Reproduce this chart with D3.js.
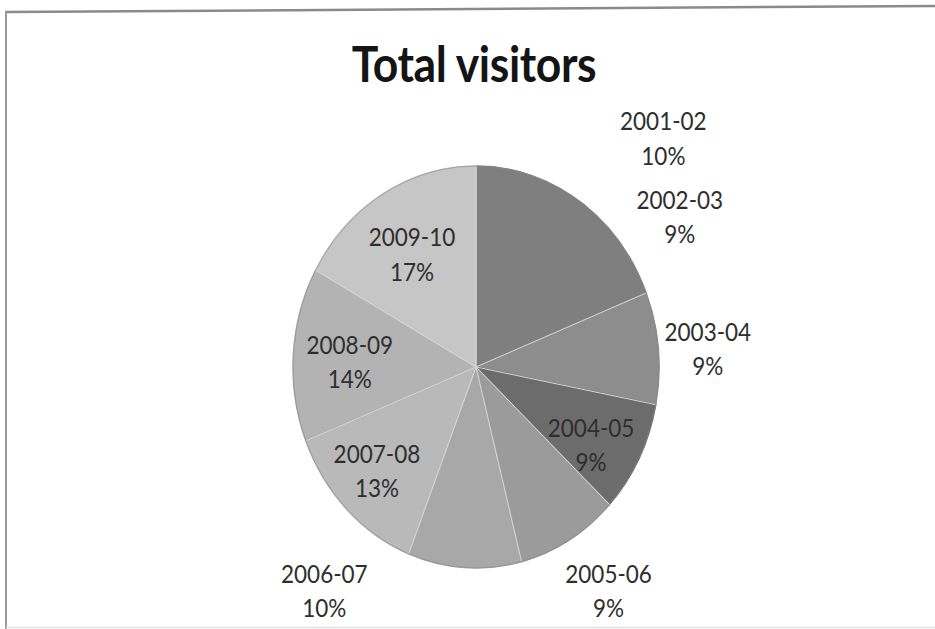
<!DOCTYPE html>
<html>
<head>
<meta charset="utf-8">
<script src="https://cdn.jsdelivr.net/npm/d3@7/dist/d3.min.js"></script>
<style>
  html, body { margin: 0; padding: 0; background: #ffffff; }
  svg { display: block; }
</style>
</head>
<body>
<svg id="chart" width="935" height="629"></svg>
<script>
// ---- data ----
const categories = ["2001-02", "2002-03", "2003-04", "2004-05", "2005-06", "2006-07", "2007-08", "2008-09", "2009-10"];
const percents   = [10, 9, 9, 9, 9, 10, 13, 14, 17];
const colors     = ["#7f7f7f", "#7f7f7f", "#8d8d8d", "#6c6c6c", "#9b9b9b", "#a8a8a8", "#b9b9b9", "#b3b3b3", "#c6c6c6"];
const title = "Total visitors";

// label placement (radius as fraction of pie radius, angular shift in degrees)
const labelRadius = [1.53, 1.34, 1.27, 0.74, 1.33, 1.39, 0.75, 0.69, 0.66];
const labelShift  = [24, 4, 1.4, 4.8, -2.4, 33, 1.2, -1.7, -1.4];

// ---- layout ----
const W = 935, H = 629;
const cx = 476, cy = 367;
const R = 183;          // horizontal radius
const kY = 201 / 183;   // vertical stretch of the scanned chart

const svg = d3.select("#chart");

// frame
svg.append("line").attr("x1", 5).attr("y1", 12).attr("x2", W).attr("y2", 6)
  .attr("stroke", "#8a8a8a").attr("stroke-width", 2.5);
svg.append("line").attr("x1", 6).attr("y1", 11).attr("x2", 6).attr("y2", H)
  .attr("stroke", "#9a9a9a").attr("stroke-width", 2);
svg.append("line").attr("x1", 6).attr("y1", 627.5).attr("x2", W).attr("y2", 627.5)
  .attr("stroke", "#e4e4e4").attr("stroke-width", 1.5);

// title
svg.append("text")
  .attr("transform", `translate(474,81.5) scale(1,${kY})`)
  .attr("text-anchor", "middle")
  .attr("font-family", "Lato, 'Open Sans', sans-serif")
  .attr("font-weight", "bold")
  .attr("font-size", 44.5)
  .attr("letter-spacing", -0.4)
  .attr("fill", "#141414")
  .text(title);

// pie
const data = categories.map((c, i) => ({ cat: c, value: percents[i], color: colors[i], i }));
const pie = d3.pie().sort(null).value(d => d.value);
const arcs = pie(data);
const arc = d3.arc().innerRadius(0).outerRadius(R);

const g = svg.append("g").attr("transform", `translate(${cx},${cy}) scale(1,${kY})`);

g.selectAll("path.slice")
  .data(arcs)
  .join("path")
  .attr("class", "slice")
  .attr("d", arc)
  .attr("fill", d => d.data.color)
  .attr("stroke", d => d.data.color)
  .attr("stroke-width", 1.5)
  .attr("stroke-linejoin", "round")
  .attr("vector-effect", "non-scaling-stroke");

// separators between slices of differing colour
const sepLine = d3.lineRadial();
g.selectAll("path.sep")
  .data(arcs.filter((d, i) => arcs[(i - 1 + arcs.length) % arcs.length].data.color !== d.data.color))
  .join("path")
  .attr("class", "sep")
  .attr("d", d => sepLine([[d.startAngle, 0], [d.startAngle, R]]))
  .attr("fill", "none")
  .attr("stroke", "#d6d6d6")
  .attr("stroke-width", 1)
  .attr("vector-effect", "non-scaling-stroke");

// outline
g.append("path")
  .attr("d", d3.arc().innerRadius(R).outerRadius(R).startAngle(0).endAngle(2 * Math.PI)())
  .attr("fill", "none")
  .attr("stroke", "#8a8a8a")
  .attr("stroke-width", 0.6)
  .attr("stroke-opacity", 0.6)
  .attr("vector-effect", "non-scaling-stroke");

// labels
const lineGap = 31.5;
const labels = g.selectAll("text.lbl")
  .data(arcs)
  .join("text")
  .attr("class", "lbl")
  .attr("text-anchor", "middle")
  .attr("font-family", "Lato, 'Open Sans', sans-serif")
  .attr("font-size", 22.5)
  .attr("fill", "#2e2e2e")
  .attr("transform", d => {
    const i = d.data.i;
    const r = labelRadius[i] * R;
    const mid = (d.startAngle + d.endAngle) / 2 + labelShift[i] * Math.PI / 180;
    const p = d3.arc().innerRadius(r).outerRadius(r).startAngle(mid).endAngle(mid).centroid();
    return `translate(${p[0]},${p[1]})`;
  });

labels.append("tspan")
  .attr("x", 0).attr("y", -lineGap / 2 + 8)
  .text(d => d.data.cat);
labels.append("tspan")
  .attr("x", 0).attr("y", lineGap / 2 + 8)
  .text(d => d.data.value + "%");
</script>
</body>
</html>
